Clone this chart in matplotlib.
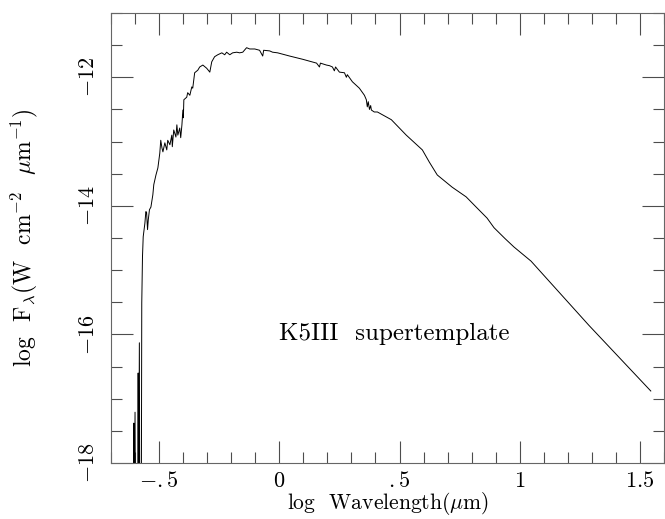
import numpy as np
import matplotlib
matplotlib.use("Agg")
import matplotlib.pyplot as plt
from matplotlib.ticker import FixedLocator, MultipleLocator

plt.rcParams['font.family'] = 'cmr10'
plt.rcParams['mathtext.fontset'] = 'cm'
plt.rcParams['axes.unicode_minus'] = False

# log wavelength (um) and log flux
# UV end: spiky noise dropping below the frame
log_wave = [-0.607, -0.605, -0.603, -0.600, -0.598, -0.589, -0.587, -0.585,
            -0.582, -0.580, -0.574, -0.572, -0.569, -0.566, -0.559, -0.555,
            -0.552, -0.548, -0.545, -0.540, -0.534, -0.526, -0.522, -0.513,
            -0.505, -0.497, -0.493, -0.488, -0.484, -0.476, -0.468, -0.464,
            -0.455, -0.447, -0.445, -0.439, -0.430, -0.426, -0.422, -0.414,
            -0.410, -0.405, -0.401, -0.399, -0.397, -0.385, -0.381, -0.372,
            -0.364, -0.360, -0.352, -0.339, -0.331, -0.318, -0.302, -0.289,
            -0.281, -0.269, -0.256, -0.239, -0.227, -0.219, -0.206, -0.194,
            -0.177, -0.165, -0.152, -0.136, -0.123, -0.102, -0.082, -0.069,
            -0.065, -0.040, -0.028, -0.007, 0.043, 0.097, 0.155, 0.167,
            0.171, 0.196, 0.209, 0.221, 0.229, 0.234, 0.250, 0.271,
            0.279, 0.283, 0.304, 0.333, 0.354, 0.362, 0.366, 0.370,
            0.375, 0.380, 0.383, 0.395, 0.408, 0.466, 0.528, 0.595,
            0.624, 0.657, 0.719, 0.777, 0.819, 0.864, 0.893, 0.939,
            0.976, 1.047, 1.288, 1.545]
log_flux = [-19.0, -17.38, -19.0, -17.21, -19.0, -19.0, -16.60, -19.0,
            -16.13, -19.0, -19.0, -15.51, -14.79, -14.48, -14.27, -14.09,
            -14.10, -14.37, -14.22, -14.06, -14.02, -13.83, -13.67, -13.52,
            -13.41, -13.18, -12.98, -13.10, -13.16, -13.02, -13.13, -12.98,
            -13.05, -12.90, -13.08, -12.82, -12.93, -12.74, -12.90, -12.79,
            -12.94, -12.74, -12.51, -12.63, -12.35, -12.31, -12.24, -12.28,
            -12.15, -12.17, -11.93, -11.89, -11.84, -11.81, -11.86, -11.92,
            -11.76, -11.68, -11.65, -11.62, -11.65, -11.61, -11.65, -11.62,
            -11.61, -11.62, -11.61, -11.54, -11.56, -11.56, -11.58, -11.67,
            -11.58, -11.59, -11.61, -11.62, -11.67, -11.72, -11.78, -11.84,
            -11.78, -11.81, -11.82, -11.84, -11.90, -11.84, -11.92, -11.93,
            -12.00, -11.96, -12.07, -12.17, -12.28, -12.35, -12.46, -12.38,
            -12.50, -12.44, -12.51, -12.54, -12.54, -12.66, -12.90, -13.13,
            -13.32, -13.52, -13.71, -13.86, -14.02, -14.19, -14.34, -14.51,
            -14.64, -14.86, -15.86, -16.88]

x_ticks = [-0.5, 0, 0.5, 1, 1.5]
x_labels = [r'$-.5$', r'$0$', r'$.5$', r'$1$', r'$1.5$']
y_ticks = [-18, -16, -14, -12]
y_labels = [r'$-18$', r'$-16$', r'$-14$', r'$-12$']

fig = plt.figure(figsize=(6.65, 5.19), dpi=100)
ax = fig.add_axes([0.1669, 0.1079, 0.8316, 0.8671])

ax.plot(log_wave, log_flux, color='black', linewidth=0.7)

ax.set_xlim(-0.7, 1.6)
ax.set_ylim(-18, -11)

ax.xaxis.set_major_locator(FixedLocator(x_ticks))
ax.set_xticklabels(x_labels)
ax.xaxis.set_minor_locator(MultipleLocator(0.1))
ax.yaxis.set_major_locator(FixedLocator(y_ticks))
ax.set_yticklabels(y_labels, rotation=90, va='center')
ax.yaxis.set_minor_locator(MultipleLocator(0.5))

ax.tick_params(which='both', direction='in', top=True, right=True,
               color='0.3', width=0.8, labelsize=16, pad=9)
ax.tick_params(axis='x', pad=6)
ax.tick_params(which='major', length=16)
ax.tick_params(which='minor', length=8)
for s in ax.spines.values():
    s.set_color('0.4')
    s.set_linewidth(0.8)

ax.set_xlabel(r'log  Wavelength$(\mu{\rm m})$', fontsize=15.5, va='bottom')
ax.xaxis.set_label_coords(0.5, -0.12)
ax.set_ylabel(r'log  F$_\lambda$(W  cm$^{-2}$  $\mu$m$^{-1}$)', fontsize=17)
ax.yaxis.set_label_coords(-0.128, 0.5)

ax.text(0.0, -16.0, 'K5III  supertemplate', fontsize=18, va='center')

fig.savefig('out.png', dpi=100)
